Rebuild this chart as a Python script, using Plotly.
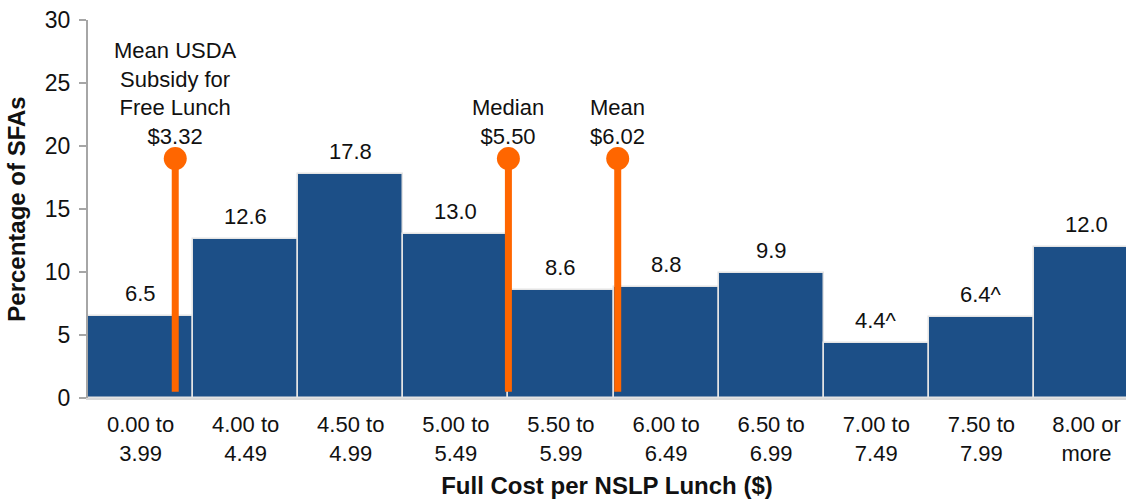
import plotly.graph_objects as go

# Distribution of full cost per NSLP lunch across SFAs
categories = ["0.00 to<br>3.99", "4.00 to<br>4.49", "4.50 to<br>4.99", "5.00 to<br>5.49",
              "5.50 to<br>5.99", "6.00 to<br>6.49", "6.50 to<br>6.99", "7.00 to<br>7.49",
              "7.50 to<br>7.99", "8.00 or<br>more"]
bin_lower = [0.0, 4.0, 4.5, 5.0, 5.5, 6.0, 6.5, 7.0, 7.5, 8.0]
bin_upper = [4.0, 4.5, 5.0, 5.5, 6.0, 6.5, 7.0, 7.5, 8.0, 8.5]
percent = [6.5, 12.6, 17.8, 13.0, 8.6, 8.8, 9.9, 4.4, 6.4, 12.0]
value_labels = ["6.5", "12.6", "17.8", "13.0", "8.6", "8.8", "9.9", "4.4^", "6.4^", "12.0"]

# Reference cost markers
marker_names = ["Mean USDA<br>Subsidy for<br>Free Lunch<br>$3.32", "Median<br>$5.50", "Mean<br>$6.02"]
marker_costs = [3.32, 5.50, 6.02]
marker_top = 19.0
marker_bottom = 0.5

BAR_COLOR = "#1c4f87"
ORANGE = "#ff6600"
FONT = "Liberation Sans, Arial, sans-serif"
TEXT = "#111111"


def cost_to_position(cost):
    """Map a dollar value onto the category axis (bin i spans i-0.5 .. i+0.5)."""
    for i, (lo, hi) in enumerate(zip(bin_lower, bin_upper)):
        if lo <= cost < hi:
            return i - 0.5 + (cost - lo) / (hi - lo)
    return len(bin_lower) - 0.5


x_idx = list(range(len(categories)))

fig = go.Figure()
fig.add_trace(go.Bar(
    x=x_idx, y=percent, width=1.0,
    marker=dict(color=BAR_COLOR, line=dict(color="#e4e4e4", width=1.5)),
    hoverinfo="skip", showlegend=False,
))

for name, cost in zip(marker_names, marker_costs):
    pos = cost_to_position(cost)
    fig.add_trace(go.Scatter(
        x=[pos, pos], y=[marker_bottom, marker_top], mode="lines",
        line=dict(color=ORANGE, width=7), hoverinfo="skip", showlegend=False,
    ))
    fig.add_trace(go.Scatter(
        x=[pos], y=[marker_top], mode="markers",
        marker=dict(color=ORANGE, size=23, line=dict(width=0)),
        hoverinfo="skip", showlegend=False,
    ))
    fig.add_annotation(x=pos, y=marker_top, text=name, showarrow=False,
                       yanchor="bottom", yshift=8,
                       font=dict(family=FONT, size=22, color=TEXT))

for i, (v, lab) in enumerate(zip(percent, value_labels)):
    fig.add_annotation(x=i, y=v, text=lab, showarrow=False, yanchor="bottom", yshift=8,
                       font=dict(family=FONT, size=22, color=TEXT))

fig.update_layout(
    width=1126, height=499,
    margin=dict(l=88, r=0, t=20, b=101),
    plot_bgcolor="white", paper_bgcolor="white",
    font=dict(family=FONT, size=22, color=TEXT),
    bargap=0,
    xaxis=dict(
        range=[-0.5, 9.376], tickmode="array", tickvals=x_idx, ticktext=categories,
        showline=True, linecolor="#d9d9d9", linewidth=2, ticks="", showgrid=False,
        zeroline=False, ticklabelstandoff=6,
        tickfont=dict(family=FONT, size=22, color=TEXT),
        title=dict(text="<b>Full Cost per NSLP Lunch ($)</b>", standoff=17,
                   font=dict(family=FONT, size=24, color=TEXT)),
    ),
    yaxis=dict(
        range=[0, 30], tickvals=[0, 5, 10, 15, 20, 25, 30],
        showline=True, linecolor="#a6a6a6", linewidth=2,
        ticks="outside", ticklen=7, tickcolor="#a6a6a6", tickwidth=2,
        showgrid=False, zeroline=False, ticklabelstandoff=4,
        tickfont=dict(family=FONT, size=23, color=TEXT),
        title=dict(text="<b>Percentage of SFAs</b>", standoff=12,
                   font=dict(family=FONT, size=24, color=TEXT)),
    ),
)

fig.write_html("out.html")
